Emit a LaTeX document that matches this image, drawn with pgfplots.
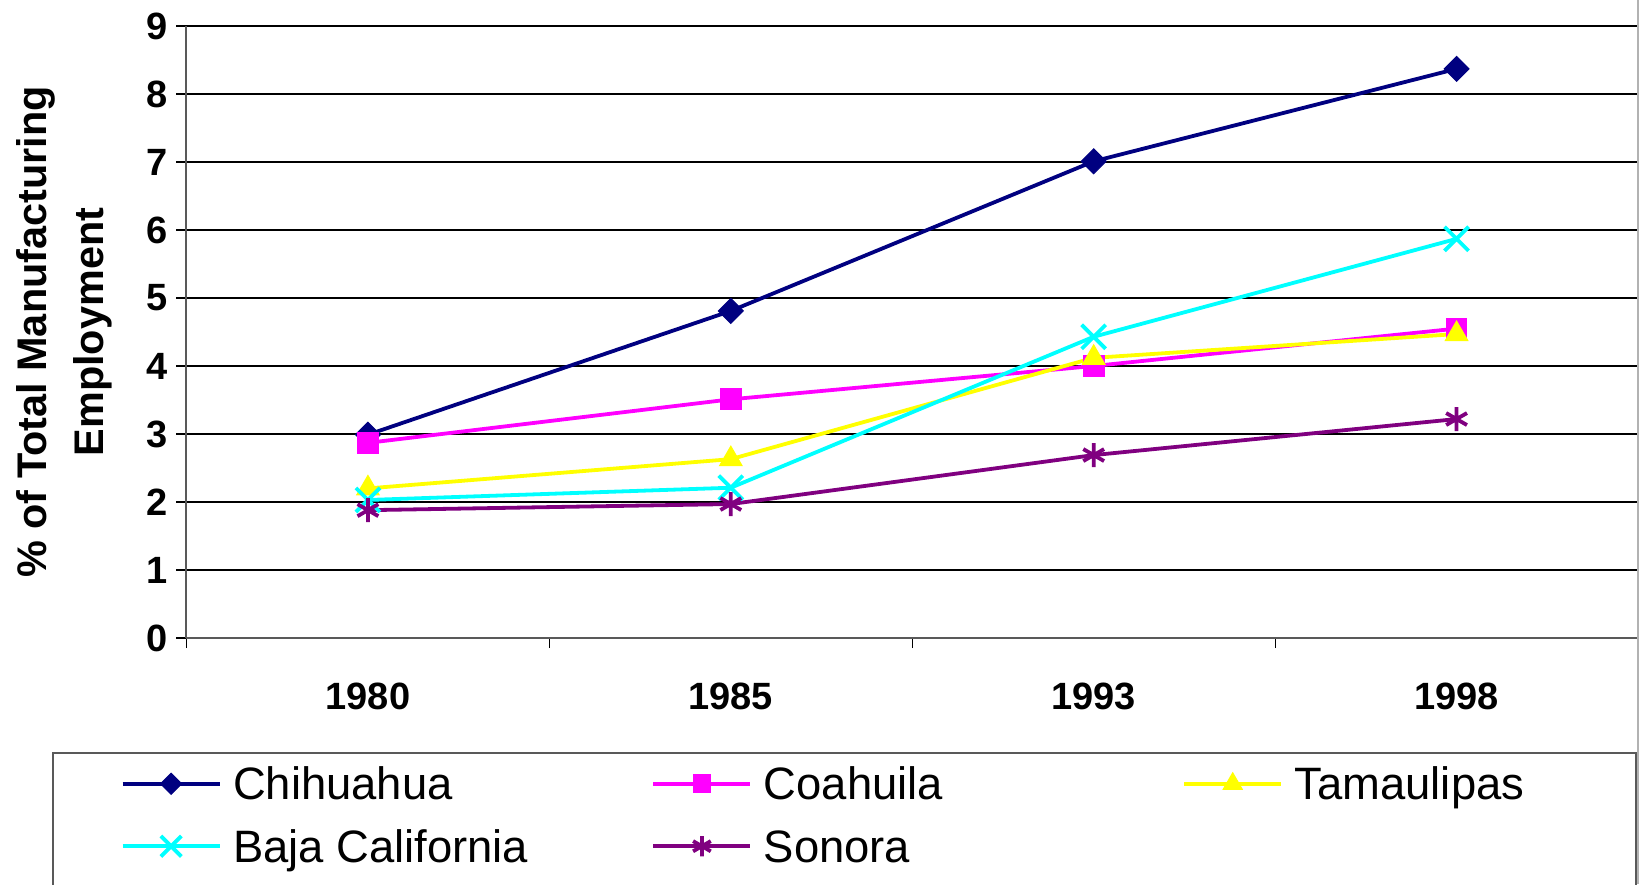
\documentclass[border=0pt]{standalone}
\usepackage{fontspec}
\setmainfont{Liberation Sans}
\usepackage{pgfplots}
\pgfplotsset{compat=1.18}
\definecolor{chih}{RGB}{0,0,128}
\definecolor{coah}{RGB}{255,0,255}
\definecolor{tama}{RGB}{255,255,0}
\definecolor{baja}{RGB}{0,255,255}
\definecolor{sono}{RGB}{128,0,128}
\begin{document}
\begin{tikzpicture}
\useasboundingbox (-93.25pt,-123pt) rectangle (728.25pt,319pt);
\begin{axis}[
  at={(0pt,0pt)}, anchor=south west,
  scale only axis, width=725.75pt, height=306pt,
  xmin=-0.5, xmax=3.5, ymin=0, ymax=9,
  xtick={-0.5,0.5,1.5,2.5,3.5},
  x tick label as interval,
  xticklabels={1980,1985,1993,1998},
  ytick={0,1,2,3,4,5,6,7,8,9},
  ymajorgrids, grid style={black, line width=0.55pt},
  axis x line*=bottom, axis y line*=left,
  axis line style={gray!70!black, line width=1pt},
  tick align=outside, major tick length=5pt,
  tick style={black, line width=0.6pt},
  /pgf/number format/assume math mode=true,
  ticklabel style={font=\fontsize{19}{22}\selectfont\bfseries},
  xticklabel style={yshift=-14pt},
  yticklabel style={inner xsep=4pt},
  ylabel={\% of Total Manufacturing\\Employment},
  every axis y label/.style={at={(axis description cs:-0.0845,0.5)}, rotate=90, anchor=center,
    align=center, font=\fontsize{20.7}{28.5}\selectfont\bfseries},
  legend columns=3,
  legend cell align=left,
  legend style={at={(axis description cs:-0.09285,-0.18627)}, anchor=north west,
    draw=gray!70!black, line width=1pt, inner xsep=34pt, inner ysep=3.4pt,
    font=\fontsize{22.7}{27}\selectfont,
    nodes={inner xsep=0pt, inner ysep=0pt, text height=20pt, text depth=11pt, anchor=base west},
    /tikz/every odd column/.append style={column sep=5.75pt},
    /tikz/row sep=0.2pt},
  legend image code/.code={\draw[mark repeat=2,mark phase=2] plot coordinates {(0pt,8pt) (24.25pt,8pt) (48.5pt,8pt)};},
  legend image post style={/tikz/every mark/.append style={scale=0.85}},
  every axis plot/.append style={line width=1.9pt},
]
\addplot[color=chih, mark=square*, mark size=4.4pt, mark options={rotate=45, solid, line width=0.5pt}] coordinates {(0,2.99) (1,4.81) (2,7.01) (3,8.37)};
\addlegendentry{\makebox[209.25pt][l]{Chihuahua}}
\addplot[color=coah, mark=square*, mark size=5.2pt, mark options={solid, line width=0.5pt}] coordinates {(0,2.87) (1,3.51) (2,4.00) (3,4.55)};
\addlegendentry{\makebox[209.25pt][l]{Coahuila}}
\addplot[color=tama, mark=triangle*, mark size=6.5pt, mark options={solid, line width=0.5pt}] coordinates {(0,2.20) (1,2.63) (2,4.12) (3,4.47)};
\addlegendentry{\makebox[136.75pt][l]{Tamaulipas}}
\addplot[color=baja, mark=x, mark size=8.5pt, mark options={solid}] coordinates {(0,2.03) (1,2.21) (2,4.43) (3,5.87)};
\addlegendentry{\makebox[209.25pt][l]{Baja California}}
\addplot[color=sono, mark=asterisk, mark size=6pt, mark options={solid}] coordinates {(0,1.88) (1,1.97) (2,2.69) (3,3.22)};
\addlegendentry{\makebox[209.25pt][l]{Sonora}}
\end{axis}
\draw[gray!60, line width=1.2pt] (725.75pt,-123pt) -- (725.75pt,319pt);
\end{tikzpicture}
\end{document}
